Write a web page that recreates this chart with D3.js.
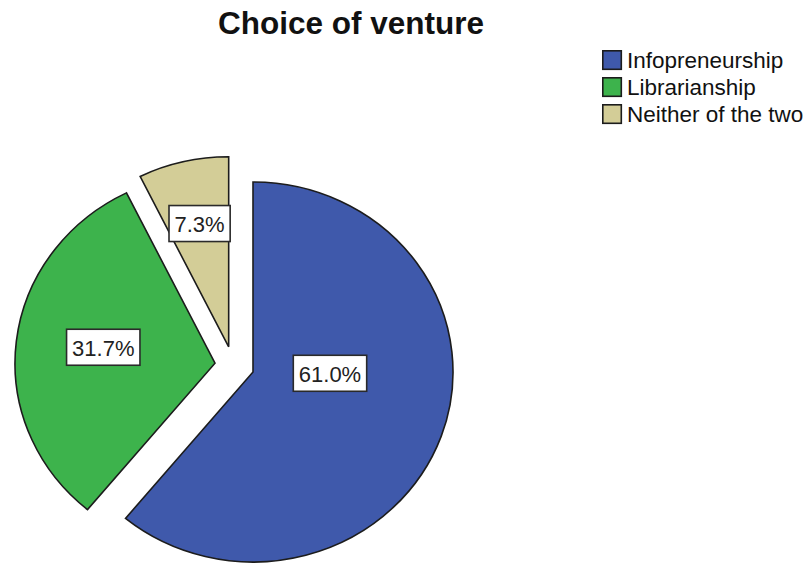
<!DOCTYPE html>
<html>
<head>
<meta charset="utf-8">
<script src="https://cdn.jsdelivr.net/npm/d3@7"></script>
<style>
  html, body { margin: 0; padding: 0; background: #ffffff; }
  svg { display: block; }
  text { font-family: "Liberation Sans", Arial, Helvetica, sans-serif; }
</style>
</head>
<body>
<svg id="chart" width="810" height="563"></svg>
<script>
// Responses to "Choice of venture"
const categories = ["Infopreneurship", "Librarianship", "Neither of the two"];
const percents = [61.0, 31.7, 7.3];
const sliceColors = ["#3f59ab", "#3db34c", "#d3cd97"];

// Layout
const W = 810, H = 563;
const cx = 253, cy = 372;      // pie centre
const R = 200;                 // horizontal radius
const squash = 0.95;           // vertical / horizontal radius ratio
// exploded slices: distance (px) and direction (deg, clockwise from 12 o'clock)
const explodeDist = [0, 39, 35];
const explodeDir = [0, 283, 316];
// value-label placement: shift from the slice mid-angle (deg) and radius fraction
const labelAngleShift = [-18.8, 1.9, 0.5];
const labelRadius = [0.385, 0.565, 0.665];

const svg = d3.select("#chart");
const rad = Math.PI / 180;

// Title
svg.append("text")
  .attr("x", 351).attr("y", 34)
  .attr("text-anchor", "middle")
  .attr("font-size", 31.5)
  .attr("font-weight", "bold")
  .attr("fill", "#111")
  .text("Choice of venture");

const data = categories.map((c, i) => ({ name: c, value: percents[i], i }));
const pie = d3.pie().sort(null).value(d => d.value).startAngle(0).endAngle(2 * Math.PI);
const arcs = pie(data);
const arc = d3.arc().innerRadius(0).outerRadius(R);

const slices = svg.append("g").selectAll("g.slice")
  .data(arcs)
  .join("g")
  .attr("class", "slice")
  .attr("transform", d => {
    const i = d.data.i;
    const dx = explodeDist[i] * Math.sin(explodeDir[i] * rad);
    const dy = -explodeDist[i] * Math.cos(explodeDir[i] * rad);
    d.ox = cx + dx; d.oy = cy + dy;
    return `translate(${d.ox},${d.oy})`;
  });

slices.append("g")
  .attr("transform", `scale(1,${squash})`)
  .append("path")
  .attr("d", arc)
  .attr("fill", d => sliceColors[d.data.i])
  .attr("stroke", "#1c1c1c")
  .attr("stroke-width", 1.6)
  .attr("stroke-linejoin", "miter")
  .attr("vector-effect", "non-scaling-stroke");

// Value labels in white boxes
const fmt = d3.format(".1f");
const labels = svg.append("g").selectAll("g.lbl")
  .data(arcs)
  .join("g")
  .attr("class", "lbl")
  .attr("transform", d => {
    const i = d.data.i;
    const a = (d.startAngle + d.endAngle) / 2 + labelAngleShift[i] * rad;
    const r = R * labelRadius[i];
    const x = d.ox + r * Math.sin(a);
    const y = d.oy - r * Math.cos(a) * squash;
    return `translate(${x},${y})`;
  });

labels.each(function(d) {
  const g = d3.select(this);
  const t = g.append("text")
    .attr("text-anchor", "middle")
    .attr("dominant-baseline", "central")
    .attr("y", 1)
    .attr("font-size", 22)
    .attr("fill", "#222")
    .text(fmt(d.data.value) + "%");
  const w = t.node().getComputedTextLength() + 11;
  const h = 36;
  g.insert("rect", "text")
    .attr("x", -w / 2).attr("y", -h / 2)
    .attr("width", w).attr("height", h)
    .attr("fill", "#ffffff")
    .attr("stroke", "#2a2a2a")
    .attr("stroke-width", 1.6);
});

// Legend
const legend = svg.append("g").attr("transform", "translate(602,50)");
const rows = legend.selectAll("g.row")
  .data(categories)
  .join("g")
  .attr("class", "row")
  .attr("transform", (d, i) => `translate(0,${i * 27})`);
rows.append("rect")
  .attr("x", 0.8).attr("y", 0.8)
  .attr("width", 18.5).attr("height", 18.5)
  .attr("fill", (d, i) => sliceColors[i])
  .attr("stroke", "#1c1c1c")
  .attr("stroke-width", 1.6);
rows.append("text")
  .attr("x", 25).attr("y", 18)
  .attr("font-size", 22.5)
  .attr("fill", "#111")
  .text(d => d);
</script>
</body>
</html>
